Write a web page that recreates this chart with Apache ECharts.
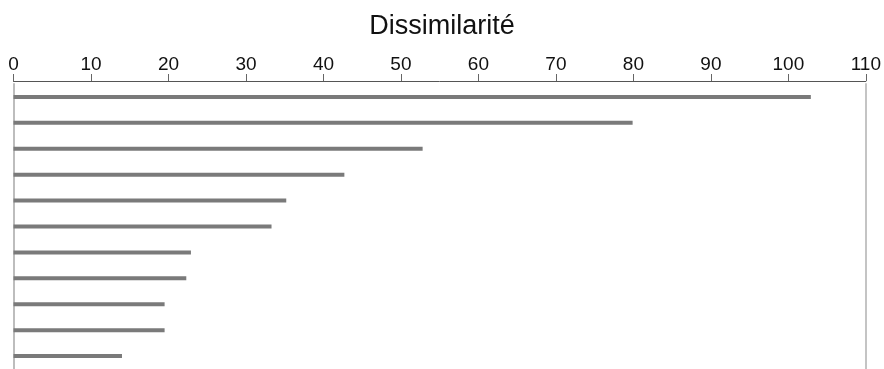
<!DOCTYPE html>
<html>
<head>
<meta charset="utf-8">
<script src="https://cdn.jsdelivr.net/npm/echarts@6/dist/echarts.min.js"></script>
<style>
html,body{margin:0;padding:0;background:#fff;}
#chart{width:884px;height:369px;}
</style>
</head>
<body>
<div id="chart"></div>
<script>
var titleText = 'Dissimilarité';
var categories = ['1','2','3','4','5','6','7','8','9','10','11'];
var values = [102.9, 79.9, 52.8, 42.7, 35.2, 33.3, 22.9, 22.3, 19.5, 19.5, 14.0];
var xMin = 0, xMax = 110, xInterval = 10;

var chart = echarts.init(document.getElementById('chart'), null, {renderer:'canvas'});
chart.setOption({
  animation:false,
  backgroundColor:'#ffffff',
  title:{
    text:titleText, left:'center', top:8,
    textStyle:{fontFamily:'Liberation Sans, Arial, sans-serif', fontSize:27, fontWeight:'normal', color:'#111'}
  },
  grid:{left:13.5, right:15.5, top:84, bottom:0, containLabel:false},
  xAxis:{
    type:'value', position:'top', min:xMin, max:xMax, interval:xInterval, offset:3,
    axisLine:{show:true, lineStyle:{color:'#555', width:1}},
    axisTick:{show:true, inside:false, length:7, lineStyle:{color:'#666'}},
    axisLabel:{color:'#111', fontSize:19, margin:7, fontFamily:'Liberation Sans, Arial, sans-serif'},
    splitLine:{show:false}
  },
  yAxis:[{
    type:'category', inverse:true, data:categories,
    axisLine:{show:true, lineStyle:{color:'#bdbdbd', width:2}},
    axisTick:{show:false}, axisLabel:{show:false}
  },{
    type:'category', inverse:true, data:categories, position:'right',
    axisLine:{show:true, lineStyle:{color:'#c4c4c4', width:2}},
    axisTick:{show:false}, axisLabel:{show:false}
  }],
  series:[{
    type:'bar', data:values, barWidth:4,
    itemStyle:{color:'#7a7a7a'},
    silent:true
  }]
});
</script>
</body>
</html>
